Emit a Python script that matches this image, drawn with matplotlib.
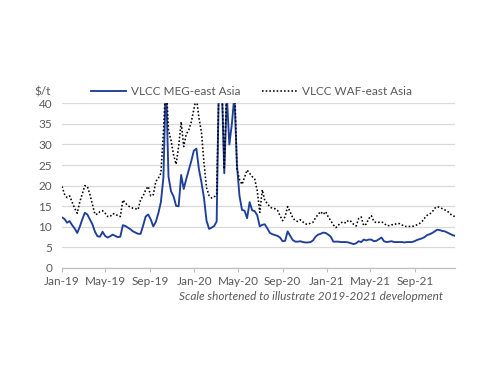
import matplotlib
matplotlib.use("Agg")
import matplotlib.pyplot as plt
import matplotlib.dates as mdates
import pandas as pd

start_date = "2019-01-01"

meg_east_asia = [
    12.3, 11.9, 11.0, 11.4, 10.4, 9.6, 8.5, 10.0, 11.8, 13.4,
    13.0, 11.8, 10.6, 8.8, 7.7, 7.6, 8.8, 7.8, 7.4, 7.7,
    8.1, 7.8, 7.5, 7.6, 10.4, 10.2, 9.8, 9.4, 8.9, 8.6,
    8.3, 8.3, 10.3, 12.5, 13.0, 11.8, 10.1, 11.2, 13.3, 16.0,
    22.0, 46.0, 22.2, 18.6, 17.4, 15.1, 15.0, 22.6, 19.2, 21.6,
    23.8, 26.0, 28.5, 29.0, 24.0, 20.8, 17.0, 11.5, 9.5, 9.8,
    10.2, 11.3, 50.0, 45.0, 23.0, 42.0, 30.0, 35.0, 42.0, 25.0,
    17.5, 14.1, 13.9, 12.1, 16.0, 14.0, 13.8, 12.8, 10.1, 10.5,
    10.6, 9.6, 8.5, 8.2, 8.0, 7.8, 7.4, 6.5, 6.6, 8.9,
    7.8, 6.8, 6.4, 6.4, 6.5, 6.3, 6.2, 6.2, 6.3, 6.7,
    7.6, 8.1, 8.3, 8.6, 8.5, 8.1, 7.6, 6.4, 6.4, 6.4,
    6.3, 6.3, 6.3, 6.2, 6.0, 5.8, 6.0, 6.5, 6.3, 6.9,
    6.7, 6.9, 6.9, 6.5, 6.6, 7.0, 7.4, 6.5, 6.3, 6.4,
    6.5, 6.3, 6.3, 6.3, 6.3, 6.2, 6.3, 6.3, 6.3, 6.5,
    6.8, 7.0, 7.2, 7.5, 8.0, 8.2, 8.5, 8.9, 9.3, 9.2,
    9.0, 8.9, 8.6, 8.3, 8.0, 7.8,
]

waf_east_asia = [
    19.8, 17.9, 17.1, 17.5, 16.0, 14.5, 13.3, 16.0, 18.0, 20.0,
    19.8, 17.9, 15.5, 13.0, 13.1, 13.7, 13.9, 13.3, 12.5, 12.5,
    13.2, 13.1, 12.7, 12.5, 16.5, 15.8, 15.1, 14.8, 14.5, 14.4,
    14.2, 16.6, 17.5, 19.0, 19.8, 17.5, 17.8, 21.0, 21.8, 23.0,
    33.0, 46.0, 33.5, 31.0, 27.5, 25.2, 29.5, 35.5, 29.5, 32.5,
    33.5, 35.5, 38.5, 41.5, 36.5, 33.0, 25.5, 19.5, 17.6, 17.0,
    17.2, 18.0, 48.0, 46.0, 24.0, 45.0, 48.0, 50.0, 47.0, 24.0,
    21.5, 20.3, 22.0, 23.8, 23.0, 22.2, 21.6, 18.8, 13.5, 19.0,
    16.3, 15.7, 14.8, 14.5, 14.4, 14.0, 12.7, 11.5, 12.5, 14.9,
    13.6, 12.2, 11.5, 11.3, 11.7, 11.2, 10.7, 10.6, 10.9, 11.1,
    12.2, 13.0, 13.7, 13.0, 13.7, 12.4, 11.5, 10.5, 9.8, 10.4,
    11.0, 11.2, 10.9, 11.6, 11.3, 10.6, 10.2, 12.0, 12.4, 10.3,
    10.7, 12.0, 12.7, 11.3, 11.0, 11.1, 11.2, 10.9, 10.3, 10.3,
    10.5, 10.5, 10.8, 10.8, 10.5, 10.1, 10.1, 10.1, 10.1, 10.2,
    10.5, 10.8, 11.3, 12.1, 12.8, 13.1, 13.6, 14.5, 14.9, 14.7,
    14.4, 14.1, 13.8, 13.2, 12.7, 12.5,
]

series_labels = ["VLCC MEG-east Asia", "VLCC WAF-east Asia"]
y_ticks = [0, 5, 10, 15, 20, 25, 30, 35, 40]
unit_label = "$/t"
footnote = "Scale shortened to illustrate 2019-2021 development"

dates = pd.date_range(start_date, periods=len(meg_east_asia), freq="7D")

plt.rcParams['font.family'] = ['Lato', 'DejaVu Sans']
text_color = "#595959"

fig = plt.figure(figsize=(5.0, 3.86), dpi=100)
ax = fig.add_axes([0.124, 0.3057, 0.786, 0.4267])

ax.plot(dates, meg_east_asia, color="#1f3f98", lw=1.35, label=series_labels[0],
        solid_joinstyle="round")
ax.plot(dates, waf_east_asia, color="#000000", lw=1.15, ls=(0, (1, 1.3)),
        label=series_labels[1])

ax.set_ylim(0, 40)
ax.set_xlim(dates[0], dates[-1])
ax.set_yticks(y_ticks)
ax.grid(axis="y", color="#d9d9d9", lw=0.9)
ax.set_axisbelow(True)

ax.xaxis.set_major_locator(mdates.MonthLocator(bymonth=[1, 5, 9]))
ax.xaxis.set_major_formatter(mdates.DateFormatter("%b-%y"))

for s in ["top", "right", "left"]:
    ax.spines[s].set_visible(False)
ax.spines["bottom"].set_color("#bfbfbf")
ax.spines["bottom"].set_linewidth(0.9)

ax.tick_params(axis="y", length=0, pad=7, labelsize=8.5, labelcolor=text_color)
ax.tick_params(axis="x", length=3, width=0.8, color="#bfbfbf", pad=3,
               labelsize=8.5, labelcolor=text_color)

fig.text(0.102, 0.762, unit_label, ha="right", va="center", fontsize=8.5,
         color=text_color)

leg = fig.legend(loc="center", bbox_to_anchor=(0.503, 0.762), ncol=2,
                 frameon=False, fontsize=8.5, handlelength=3.0,
                 handletextpad=0.4, columnspacing=1.8)
for t in leg.get_texts():
    t.set_color(text_color)

fig.text(0.886, 0.231, footnote, ha="right", va="center", fontsize=8.5,
         style="italic", color=text_color)

fig.savefig("out.png", dpi=100)
